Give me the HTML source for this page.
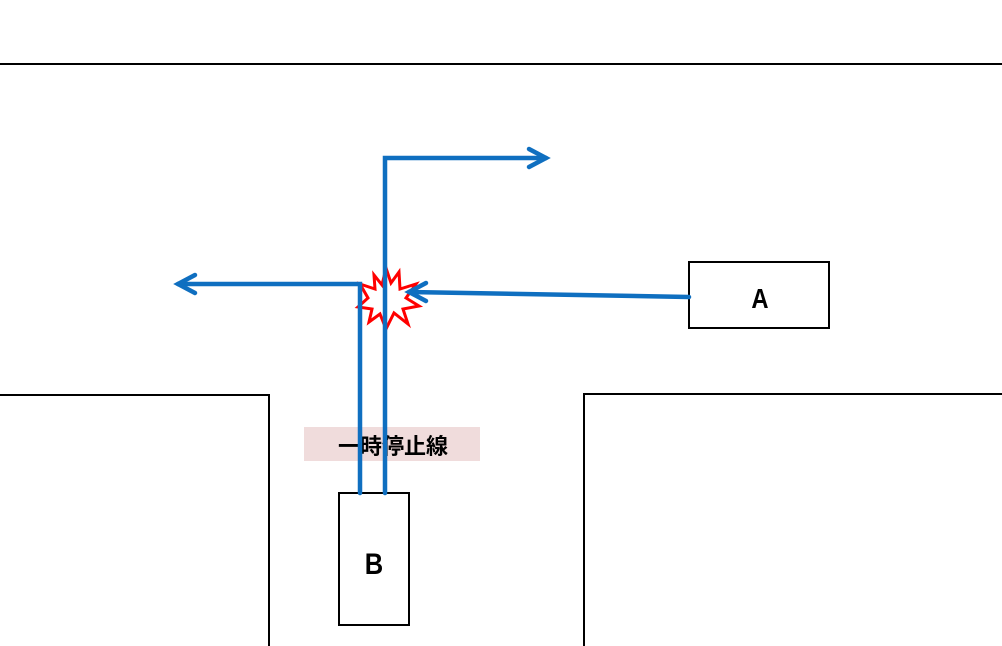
<!DOCTYPE html>
<html><head><meta charset="utf-8"><style>
html,body{margin:0;padding:0;background:#fff;width:1002px;height:646px;overflow:hidden}
svg{display:block}
</style></head><body>
<svg width="1002" height="646" viewBox="0 0 1002 646" xmlns="http://www.w3.org/2000/svg">
<line x1="0" y1="64" x2="1002" y2="64" stroke="#000" stroke-width="2"/>
<polyline points="0,395 269,395 269,646" fill="none" stroke="#000" stroke-width="2"/>
<polyline points="1002,394 584,394 584,646" fill="none" stroke="#000" stroke-width="2"/>
<rect x="304" y="427" width="176" height="34" fill="#f0dcdc"/>
<text x="393" y="454" font-family="'Liberation Sans','Noto Sans CJK JP',sans-serif" font-size="22" font-weight="bold" text-anchor="middle" fill="#000">一時停止線</text>
<rect x="339" y="493" width="70" height="132" fill="#fff" stroke="#000" stroke-width="2"/>
<text x="374" y="574" font-family="'Liberation Sans',sans-serif" font-size="30" font-weight="bold" text-anchor="middle" transform="translate(374 0) scale(0.85 1) translate(-374 0)">B</text>
<rect x="689" y="262" width="140" height="66" fill="#fff" stroke="#000" stroke-width="2"/>
<text x="760" y="308" font-family="'Liberation Sans',sans-serif" font-size="28" font-weight="bold" text-anchor="middle" transform="translate(760 0) scale(0.85 1) translate(-760 0)">A</text>
<polygon points="386,268 391,283 399,272 400,289 416,284 406,298 419,306 403,309 408,324 394,313 386,329 380,314 369,322 372,309 358,307 368,298 360,284 375,289 374,275 382,285" fill="#fff" stroke="#f00" stroke-width="3" stroke-linejoin="miter"/>
<g fill="none" stroke="#0f6fc0" stroke-width="4.5" stroke-linecap="round" stroke-linejoin="miter">
<polyline points="360,493 360,284 178,284"/>
<polyline points="195,275 178,284 195,293"/>
<polyline points="385,493 385,158 546,158"/>
<polyline points="529,149 546,158 529,167"/>
<line x1="689" y1="297" x2="409" y2="292"/>
<polyline points="426,283 409,292 426,301"/>
</g>
</svg>
</body></html>
